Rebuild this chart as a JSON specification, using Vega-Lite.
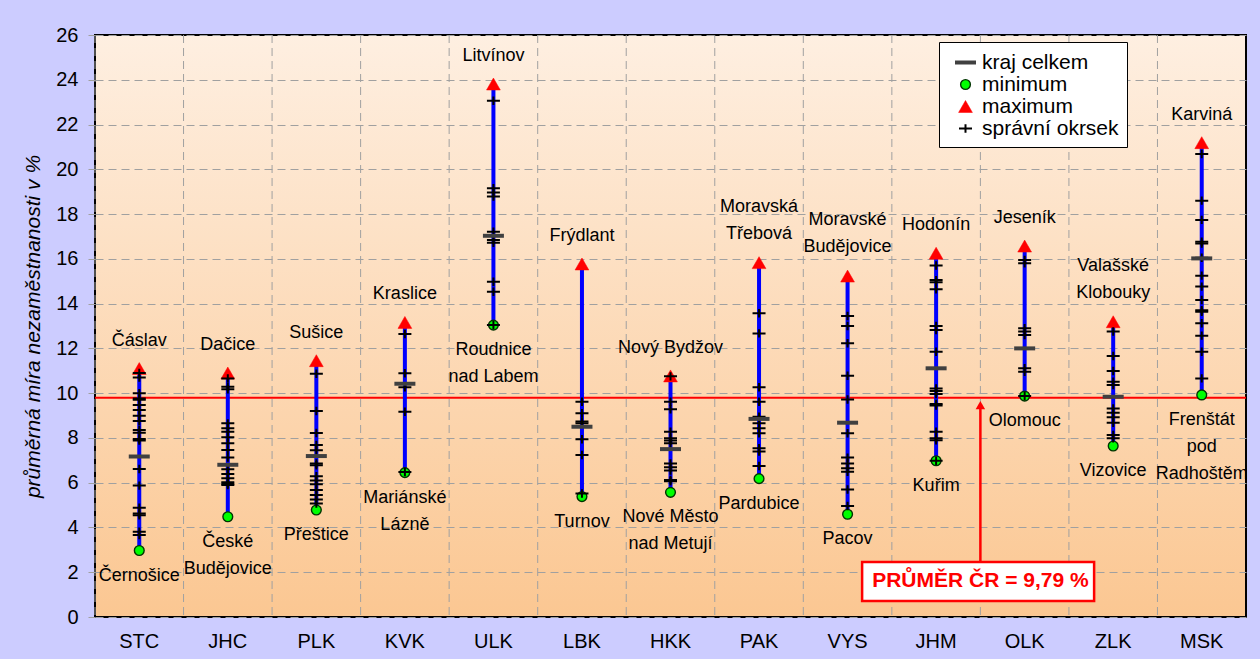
{
  "$schema": "https://vega.github.io/schema/vega-lite/v6.json",
  "width": 1151,
  "height": 582,
  "autosize": {"type": "none"},
  "padding": {"left": 95, "top": 35, "right": 14, "bottom": 42},
  "background": "#CCCCFF",
  "data": {
    "values": [
      {"kraj": "STC", "typ": "minimum", "hodnota": 2.97, "orp": "Černošice"},
      {"kraj": "STC", "typ": "maximum", "hodnota": 11.1, "orp": "Čáslav"},
      {"kraj": "JHC", "typ": "minimum", "hodnota": 4.48, "orp": "České\nBudějovice"},
      {"kraj": "JHC", "typ": "maximum", "hodnota": 10.9, "orp": "Dačice"},
      {"kraj": "PLK", "typ": "minimum", "hodnota": 4.78, "orp": "Přeštice"},
      {"kraj": "PLK", "typ": "maximum", "hodnota": 11.45, "orp": "Sušice"},
      {"kraj": "KVK", "typ": "minimum", "hodnota": 6.45, "orp": "Mariánské\nLázně"},
      {"kraj": "KVK", "typ": "maximum", "hodnota": 13.16, "orp": "Kraslice"},
      {"kraj": "ULK", "typ": "minimum", "hodnota": 13.04, "orp": "Roudnice\nnad Labem"},
      {"kraj": "ULK", "typ": "maximum", "hodnota": 23.81, "orp": "Litvínov"},
      {"kraj": "LBK", "typ": "minimum", "hodnota": 5.38, "orp": "Turnov"},
      {"kraj": "LBK", "typ": "maximum", "hodnota": 15.77, "orp": "Frýdlant"},
      {"kraj": "HKK", "typ": "minimum", "hodnota": 5.57, "orp": "Nové Město\nnad Metují"},
      {"kraj": "HKK", "typ": "maximum", "hodnota": 10.77, "orp": "Nový Bydžov"},
      {"kraj": "PAK", "typ": "minimum", "hodnota": 6.18, "orp": "Pardubice"},
      {"kraj": "PAK", "typ": "maximum", "hodnota": 15.83, "orp": "Moravská\nTřebová"},
      {"kraj": "VYS", "typ": "minimum", "hodnota": 4.59, "orp": "Pacov"},
      {"kraj": "VYS", "typ": "maximum", "hodnota": 15.23, "orp": "Moravské\nBudějovice"},
      {"kraj": "JHM", "typ": "minimum", "hodnota": 6.98, "orp": "Kuřim"},
      {"kraj": "JHM", "typ": "maximum", "hodnota": 16.25, "orp": "Hodonín"},
      {"kraj": "OLK", "typ": "minimum", "hodnota": 9.87, "orp": "Olomouc"},
      {"kraj": "OLK", "typ": "maximum", "hodnota": 16.57, "orp": "Jeseník"},
      {"kraj": "ZLK", "typ": "minimum", "hodnota": 7.64, "orp": "Vizovice"},
      {"kraj": "ZLK", "typ": "maximum", "hodnota": 13.19, "orp": "Valašské\nKlobouky"},
      {"kraj": "MSK", "typ": "minimum", "hodnota": 9.92, "orp": "Frenštát\npod\nRadhoštěm"},
      {"kraj": "MSK", "typ": "maximum", "hodnota": 21.19, "orp": "Karviná"},

      {"kraj": "STC", "typ": "správní okrsek", "hodnota": 10.9},
      {"kraj": "STC", "typ": "správní okrsek", "hodnota": 10.7},
      {"kraj": "STC", "typ": "správní okrsek", "hodnota": 10.0},
      {"kraj": "STC", "typ": "správní okrsek", "hodnota": 9.76},
      {"kraj": "STC", "typ": "správní okrsek", "hodnota": 9.7},
      {"kraj": "STC", "typ": "správní okrsek", "hodnota": 9.47},
      {"kraj": "STC", "typ": "správní okrsek", "hodnota": 9.25},
      {"kraj": "STC", "typ": "správní okrsek", "hodnota": 8.99},
      {"kraj": "STC", "typ": "správní okrsek", "hodnota": 8.76},
      {"kraj": "STC", "typ": "správní okrsek", "hodnota": 8.35},
      {"kraj": "STC", "typ": "správní okrsek", "hodnota": 8.23},
      {"kraj": "STC", "typ": "správní okrsek", "hodnota": 7.95},
      {"kraj": "STC", "typ": "správní okrsek", "hodnota": 7.88},
      {"kraj": "STC", "typ": "správní okrsek", "hodnota": 6.61},
      {"kraj": "STC", "typ": "správní okrsek", "hodnota": 5.87},
      {"kraj": "STC", "typ": "správní okrsek", "hodnota": 4.88},
      {"kraj": "STC", "typ": "správní okrsek", "hodnota": 4.62},
      {"kraj": "STC", "typ": "správní okrsek", "hodnota": 4.55},
      {"kraj": "STC", "typ": "správní okrsek", "hodnota": 3.81},
      {"kraj": "STC", "typ": "správní okrsek", "hodnota": 3.66},

      {"kraj": "JHC", "typ": "správní okrsek", "hodnota": 10.66},
      {"kraj": "JHC", "typ": "správní okrsek", "hodnota": 10.29},
      {"kraj": "JHC", "typ": "správní okrsek", "hodnota": 10.17},
      {"kraj": "JHC", "typ": "správní okrsek", "hodnota": 8.65},
      {"kraj": "JHC", "typ": "správní okrsek", "hodnota": 8.43},
      {"kraj": "JHC", "typ": "správní okrsek", "hodnota": 8.28},
      {"kraj": "JHC", "typ": "správní okrsek", "hodnota": 8.03},
      {"kraj": "JHC", "typ": "správní okrsek", "hodnota": 7.76},
      {"kraj": "JHC", "typ": "správní okrsek", "hodnota": 7.46},
      {"kraj": "JHC", "typ": "správní okrsek", "hodnota": 7.12},
      {"kraj": "JHC", "typ": "správní okrsek", "hodnota": 6.6},
      {"kraj": "JHC", "typ": "správní okrsek", "hodnota": 6.39},
      {"kraj": "JHC", "typ": "správní okrsek", "hodnota": 6.2},
      {"kraj": "JHC", "typ": "správní okrsek", "hodnota": 6.02},
      {"kraj": "JHC", "typ": "správní okrsek", "hodnota": 5.95},
      {"kraj": "JHC", "typ": "správní okrsek", "hodnota": 5.9},

      {"kraj": "PLK", "typ": "správní okrsek", "hodnota": 10.87},
      {"kraj": "PLK", "typ": "správní okrsek", "hodnota": 9.2},
      {"kraj": "PLK", "typ": "správní okrsek", "hodnota": 8.22},
      {"kraj": "PLK", "typ": "správní okrsek", "hodnota": 7.68},
      {"kraj": "PLK", "typ": "správní okrsek", "hodnota": 7.45},
      {"kraj": "PLK", "typ": "správní okrsek", "hodnota": 6.86},
      {"kraj": "PLK", "typ": "správní okrsek", "hodnota": 6.78},
      {"kraj": "PLK", "typ": "správní okrsek", "hodnota": 6.29},
      {"kraj": "PLK", "typ": "správní okrsek", "hodnota": 6.1},
      {"kraj": "PLK", "typ": "správní okrsek", "hodnota": 5.93},
      {"kraj": "PLK", "typ": "správní okrsek", "hodnota": 5.67},
      {"kraj": "PLK", "typ": "správní okrsek", "hodnota": 5.45},
      {"kraj": "PLK", "typ": "správní okrsek", "hodnota": 5.25},
      {"kraj": "PLK", "typ": "správní okrsek", "hodnota": 5.07},

      {"kraj": "KVK", "typ": "správní okrsek", "hodnota": 12.64},
      {"kraj": "KVK", "typ": "správní okrsek", "hodnota": 10.89},
      {"kraj": "KVK", "typ": "správní okrsek", "hodnota": 10.26},
      {"kraj": "KVK", "typ": "správní okrsek", "hodnota": 9.17},
      {"kraj": "KVK", "typ": "správní okrsek", "hodnota": 6.48},

      {"kraj": "ULK", "typ": "správní okrsek", "hodnota": 23.06},
      {"kraj": "ULK", "typ": "správní okrsek", "hodnota": 19.15},
      {"kraj": "ULK", "typ": "správní okrsek", "hodnota": 18.96},
      {"kraj": "ULK", "typ": "správní okrsek", "hodnota": 18.78},
      {"kraj": "ULK", "typ": "správní okrsek", "hodnota": 17.21},
      {"kraj": "ULK", "typ": "správní okrsek", "hodnota": 16.84},
      {"kraj": "ULK", "typ": "správní okrsek", "hodnota": 16.72},
      {"kraj": "ULK", "typ": "správní okrsek", "hodnota": 14.98},
      {"kraj": "ULK", "typ": "správní okrsek", "hodnota": 14.53},
      {"kraj": "ULK", "typ": "správní okrsek", "hodnota": 13.04},

      {"kraj": "LBK", "typ": "správní okrsek", "hodnota": 9.62},
      {"kraj": "LBK", "typ": "správní okrsek", "hodnota": 9.1},
      {"kraj": "LBK", "typ": "správní okrsek", "hodnota": 8.73},
      {"kraj": "LBK", "typ": "správní okrsek", "hodnota": 8.65},
      {"kraj": "LBK", "typ": "správní okrsek", "hodnota": 7.94},
      {"kraj": "LBK", "typ": "správní okrsek", "hodnota": 7.24},
      {"kraj": "LBK", "typ": "správní okrsek", "hodnota": 5.52},

      {"kraj": "HKK", "typ": "správní okrsek", "hodnota": 10.75},
      {"kraj": "HKK", "typ": "správní okrsek", "hodnota": 9.62},
      {"kraj": "HKK", "typ": "správní okrsek", "hodnota": 9.28},
      {"kraj": "HKK", "typ": "správní okrsek", "hodnota": 8.28},
      {"kraj": "HKK", "typ": "správní okrsek", "hodnota": 7.98},
      {"kraj": "HKK", "typ": "správní okrsek", "hodnota": 7.88},
      {"kraj": "HKK", "typ": "správní okrsek", "hodnota": 7.76},
      {"kraj": "HKK", "typ": "správní okrsek", "hodnota": 6.86},
      {"kraj": "HKK", "typ": "správní okrsek", "hodnota": 6.69},
      {"kraj": "HKK", "typ": "správní okrsek", "hodnota": 6.54},
      {"kraj": "HKK", "typ": "správní okrsek", "hodnota": 6.12},
      {"kraj": "HKK", "typ": "správní okrsek", "hodnota": 6.06},

      {"kraj": "PAK", "typ": "správní okrsek", "hodnota": 13.57},
      {"kraj": "PAK", "typ": "správní okrsek", "hodnota": 12.67},
      {"kraj": "PAK", "typ": "správní okrsek", "hodnota": 10.26},
      {"kraj": "PAK", "typ": "správní okrsek", "hodnota": 9.62},
      {"kraj": "PAK", "typ": "správní okrsek", "hodnota": 8.95},
      {"kraj": "PAK", "typ": "správní okrsek", "hodnota": 8.65},
      {"kraj": "PAK", "typ": "správní okrsek", "hodnota": 8.43},
      {"kraj": "PAK", "typ": "správní okrsek", "hodnota": 8.21},
      {"kraj": "PAK", "typ": "správní okrsek", "hodnota": 7.54},
      {"kraj": "PAK", "typ": "správní okrsek", "hodnota": 7.39},
      {"kraj": "PAK", "typ": "správní okrsek", "hodnota": 6.75},

      {"kraj": "VYS", "typ": "správní okrsek", "hodnota": 13.45},
      {"kraj": "VYS", "typ": "správní okrsek", "hodnota": 13.0},
      {"kraj": "VYS", "typ": "správní okrsek", "hodnota": 12.23},
      {"kraj": "VYS", "typ": "správní okrsek", "hodnota": 10.78},
      {"kraj": "VYS", "typ": "správní okrsek", "hodnota": 9.72},
      {"kraj": "VYS", "typ": "správní okrsek", "hodnota": 8.21},
      {"kraj": "VYS", "typ": "správní okrsek", "hodnota": 7.12},
      {"kraj": "VYS", "typ": "správní okrsek", "hodnota": 6.86},
      {"kraj": "VYS", "typ": "správní okrsek", "hodnota": 6.64},
      {"kraj": "VYS", "typ": "správní okrsek", "hodnota": 6.49},
      {"kraj": "VYS", "typ": "správní okrsek", "hodnota": 5.7},
      {"kraj": "VYS", "typ": "správní okrsek", "hodnota": 4.96},

      {"kraj": "JHM", "typ": "správní okrsek", "hodnota": 15.7},
      {"kraj": "JHM", "typ": "správní okrsek", "hodnota": 15.05},
      {"kraj": "JHM", "typ": "správní okrsek", "hodnota": 14.96},
      {"kraj": "JHM", "typ": "správní okrsek", "hodnota": 14.64},
      {"kraj": "JHM", "typ": "správní okrsek", "hodnota": 13.0},
      {"kraj": "JHM", "typ": "správní okrsek", "hodnota": 12.82},
      {"kraj": "JHM", "typ": "správní okrsek", "hodnota": 11.85},
      {"kraj": "JHM", "typ": "správní okrsek", "hodnota": 10.21},
      {"kraj": "JHM", "typ": "správní okrsek", "hodnota": 10.1},
      {"kraj": "JHM", "typ": "správní okrsek", "hodnota": 9.96},
      {"kraj": "JHM", "typ": "správní okrsek", "hodnota": 9.52},
      {"kraj": "JHM", "typ": "správní okrsek", "hodnota": 9.45},
      {"kraj": "JHM", "typ": "správní okrsek", "hodnota": 8.28},
      {"kraj": "JHM", "typ": "správní okrsek", "hodnota": 7.98},
      {"kraj": "JHM", "typ": "správní okrsek", "hodnota": 7.9},
      {"kraj": "JHM", "typ": "správní okrsek", "hodnota": 6.98},

      {"kraj": "OLK", "typ": "správní okrsek", "hodnota": 15.95},
      {"kraj": "OLK", "typ": "správní okrsek", "hodnota": 15.8},
      {"kraj": "OLK", "typ": "správní okrsek", "hodnota": 12.9},
      {"kraj": "OLK", "typ": "správní okrsek", "hodnota": 12.75},
      {"kraj": "OLK", "typ": "správní okrsek", "hodnota": 12.6},
      {"kraj": "OLK", "typ": "správní okrsek", "hodnota": 11.11},
      {"kraj": "OLK", "typ": "správní okrsek", "hodnota": 10.96},
      {"kraj": "OLK", "typ": "správní okrsek", "hodnota": 9.87},

      {"kraj": "ZLK", "typ": "správní okrsek", "hodnota": 12.75},
      {"kraj": "ZLK", "typ": "správní okrsek", "hodnota": 11.66},
      {"kraj": "ZLK", "typ": "správní okrsek", "hodnota": 10.99},
      {"kraj": "ZLK", "typ": "správní okrsek", "hodnota": 10.51},
      {"kraj": "ZLK", "typ": "správní okrsek", "hodnota": 10.36},
      {"kraj": "ZLK", "typ": "správní okrsek", "hodnota": 9.32},
      {"kraj": "ZLK", "typ": "správní okrsek", "hodnota": 9.13},
      {"kraj": "ZLK", "typ": "správní okrsek", "hodnota": 8.92},
      {"kraj": "ZLK", "typ": "správní okrsek", "hodnota": 8.68},
      {"kraj": "ZLK", "typ": "správní okrsek", "hodnota": 8.13},
      {"kraj": "ZLK", "typ": "správní okrsek", "hodnota": 7.98},

      {"kraj": "MSK", "typ": "správní okrsek", "hodnota": 20.68},
      {"kraj": "MSK", "typ": "správní okrsek", "hodnota": 18.6},
      {"kraj": "MSK", "typ": "správní okrsek", "hodnota": 17.74},
      {"kraj": "MSK", "typ": "správní okrsek", "hodnota": 16.76},
      {"kraj": "MSK", "typ": "správní okrsek", "hodnota": 16.68},
      {"kraj": "MSK", "typ": "správní okrsek", "hodnota": 16.05},
      {"kraj": "MSK", "typ": "správní okrsek", "hodnota": 15.25},
      {"kraj": "MSK", "typ": "správní okrsek", "hodnota": 14.76},
      {"kraj": "MSK", "typ": "správní okrsek", "hodnota": 14.16},
      {"kraj": "MSK", "typ": "správní okrsek", "hodnota": 13.7},
      {"kraj": "MSK", "typ": "správní okrsek", "hodnota": 13.64},
      {"kraj": "MSK", "typ": "správní okrsek", "hodnota": 13.12},
      {"kraj": "MSK", "typ": "správní okrsek", "hodnota": 12.57},
      {"kraj": "MSK", "typ": "správní okrsek", "hodnota": 11.85},
      {"kraj": "MSK", "typ": "správní okrsek", "hodnota": 10.66},

      {"kraj": "STC", "typ": "kraj celkem", "hodnota": 7.17},
      {"kraj": "JHC", "typ": "kraj celkem", "hodnota": 6.8},
      {"kraj": "PLK", "typ": "kraj celkem", "hodnota": 7.19},
      {"kraj": "KVK", "typ": "kraj celkem", "hodnota": 10.42},
      {"kraj": "ULK", "typ": "kraj celkem", "hodnota": 17.03},
      {"kraj": "LBK", "typ": "kraj celkem", "hodnota": 8.5},
      {"kraj": "HKK", "typ": "kraj celkem", "hodnota": 7.5},
      {"kraj": "PAK", "typ": "kraj celkem", "hodnota": 8.85},
      {"kraj": "VYS", "typ": "kraj celkem", "hodnota": 8.68},
      {"kraj": "JHM", "typ": "kraj celkem", "hodnota": 11.11},
      {"kraj": "OLK", "typ": "kraj celkem", "hodnota": 12.0},
      {"kraj": "ZLK", "typ": "kraj celkem", "hodnota": 9.84},
      {"kraj": "MSK", "typ": "kraj celkem", "hodnota": 16.02}
    ]
  },
  "layer": [
    {
      "transform": [{"filter": "datum.typ === 'kraj celkem'"}],
      "mark": {"type": "rule", "color": "#A0A0A0", "strokeDash": [8, 5], "strokeWidth": 1},
      "encoding": {
        "x": {"field": "kraj", "type": "nominal", "bandPosition": 0, "title": null,
              "scale": {"domain": ["STC","JHC","PLK","KVK","ULK","LBK","HKK","PAK","VYS","JHM","OLK","ZLK","MSK"], "paddingInner": 0, "paddingOuter": 0}}
      }
    },
    {
      "data": {"values": [{"prumer": 9.79}]},
      "mark": {"type": "rule", "color": "#FF0000", "strokeWidth": 2},
      "encoding": {
        "y": {"field": "prumer", "type": "quantitative", "title": "průměrná míra nezaměstnanosti v %", "scale": {"domain": [0, 26], "nice": false}}
      }
    },
    {
      "transform": [
        {"filter": "datum.typ === 'minimum' || datum.typ === 'maximum'"},
        {"aggregate": [{"op": "min", "field": "hodnota", "as": "od"}, {"op": "max", "field": "hodnota", "as": "do"}], "groupby": ["kraj"]}
      ],
      "mark": {"type": "rule", "color": "#0000FF", "strokeWidth": 4},
      "encoding": {
        "x": {"field": "kraj", "type": "nominal", "title": null,
              "scale": {"domain": ["STC","JHC","PLK","KVK","ULK","LBK","HKK","PAK","VYS","JHM","OLK","ZLK","MSK"], "paddingInner": 0, "paddingOuter": 0}},
        "y": {"field": "od", "type": "quantitative", "title": "průměrná míra nezaměstnanosti v %", "scale": {"domain": [0, 26], "nice": false}},
        "y2": {"field": "do"}
      }
    },
    {
      "mark": {"type": "point", "opacity": 1},
      "encoding": {
        "x": {"field": "kraj", "type": "nominal", "title": null,
              "scale": {"domain": ["STC","JHC","PLK","KVK","ULK","LBK","HKK","PAK","VYS","JHM","OLK","ZLK","MSK"], "paddingInner": 0, "paddingOuter": 0}},
        "y": {"field": "hodnota", "type": "quantitative", "title": "průměrná míra nezaměstnanosti v %", "scale": {"domain": [0, 26], "nice": false}},
        "shape": {"field": "typ", "type": "nominal", "legend": {"title": null},
                  "scale": {"domain": ["kraj celkem","minimum","maximum","správní okrsek"], "range": ["M-1,0H1", "circle", "triangle-up", "M-1,0H1M0,-0.65V0.65"]}},
        "fill": {"field": "typ", "type": "nominal", "legend": {"title": null},
                 "scale": {"domain": ["kraj celkem","minimum","maximum","správní okrsek"], "range": ["transparent", "#00FF00", "#FF0000", "transparent"]}},
        "stroke": {"field": "typ", "type": "nominal", "legend": {"title": null},
                   "scale": {"domain": ["kraj celkem","minimum","maximum","správní okrsek"], "range": ["#404040", "#003300", "#FF0000", "#000000"]}},
        "size": {"field": "typ", "type": "nominal", "legend": {"title": null},
                 "scale": {"type": "ordinal", "domain": ["kraj celkem","minimum","maximum","správní okrsek"], "range": [441, 95, 190, 169]}},
        "strokeWidth": {"field": "typ", "type": "nominal", "legend": {"title": null},
                        "scale": {"type": "ordinal", "domain": ["kraj celkem","minimum","maximum","správní okrsek"], "range": [4, 1.4, 0.5, 2]}}
      }
    },
    {
      "transform": [{"filter": "datum.typ === 'maximum' && indexof(datum.orp, '\\n') < 0"}],
      "mark": {"type": "text", "fontSize": 18, "baseline": "bottom", "dy": -19, "lineBreak": "\n", "lineHeight": 27, "color": "#000000"},
      "encoding": {
        "x": {"field": "kraj", "type": "nominal", "title": null,
              "scale": {"domain": ["STC","JHC","PLK","KVK","ULK","LBK","HKK","PAK","VYS","JHM","OLK","ZLK","MSK"], "paddingInner": 0, "paddingOuter": 0}},
        "y": {"field": "hodnota", "type": "quantitative", "title": "průměrná míra nezaměstnanosti v %", "scale": {"domain": [0, 26], "nice": false}},
        "text": {"field": "orp"}
      }
    },
    {
      "transform": [{"filter": "datum.typ === 'maximum' && indexof(datum.orp, '\\n') >= 0"}],
      "mark": {"type": "text", "fontSize": 18, "baseline": "bottom", "dy": -47, "lineBreak": "\n", "lineHeight": 27, "color": "#000000"},
      "encoding": {
        "x": {"field": "kraj", "type": "nominal", "title": null,
              "scale": {"domain": ["STC","JHC","PLK","KVK","ULK","LBK","HKK","PAK","VYS","JHM","OLK","ZLK","MSK"], "paddingInner": 0, "paddingOuter": 0}},
        "y": {"field": "hodnota", "type": "quantitative", "title": "průměrná míra nezaměstnanosti v %", "scale": {"domain": [0, 26], "nice": false}},
        "text": {"field": "orp"}
      }
    },
    {
      "transform": [{"filter": "datum.typ === 'minimum'"}],
      "mark": {"type": "text", "fontSize": 18, "baseline": "top", "dy": 16, "lineBreak": "\n", "lineHeight": 27, "color": "#000000"},
      "encoding": {
        "x": {"field": "kraj", "type": "nominal", "title": null,
              "scale": {"domain": ["STC","JHC","PLK","KVK","ULK","LBK","HKK","PAK","VYS","JHM","OLK","ZLK","MSK"], "paddingInner": 0, "paddingOuter": 0}},
        "y": {"field": "hodnota", "type": "quantitative", "title": "průměrná míra nezaměstnanosti v %", "scale": {"domain": [0, 26], "nice": false}},
        "text": {"field": "orp"}
      }
    },
    {
      "data": {"values": [{"popis": "PRŮMĚR ČR = 9,79 %"}]},
      "mark": {"type": "rule", "color": "#FF0000", "strokeWidth": 2.5},
      "encoding": {
        "x": {"datum": "JHM", "type": "nominal", "bandPosition": 1, "title": null,
              "scale": {"domain": ["STC","JHC","PLK","KVK","ULK","LBK","HKK","PAK","VYS","JHM","OLK","ZLK","MSK"], "paddingInner": 0, "paddingOuter": 0}},
        "y": {"datum": 2.46, "type": "quantitative", "title": "průměrná míra nezaměstnanosti v %", "scale": {"domain": [0, 26], "nice": false}},
        "y2": {"datum": 9.4}
      }
    },
    {
      "data": {"values": [{"popis": "PRŮMĚR ČR = 9,79 %"}]},
      "mark": {"type": "point", "shape": "triangle-up", "filled": true, "color": "#FF0000", "opacity": 1, "size": 90},
      "encoding": {
        "x": {"datum": "JHM", "type": "nominal", "bandPosition": 1, "title": null,
              "scale": {"domain": ["STC","JHC","PLK","KVK","ULK","LBK","HKK","PAK","VYS","JHM","OLK","ZLK","MSK"], "paddingInner": 0, "paddingOuter": 0}},
        "y": {"datum": 9.47, "type": "quantitative", "title": "průměrná míra nezaměstnanosti v %", "scale": {"domain": [0, 26], "nice": false}}
      }
    },
    {
      "data": {"values": [{"popis": "PRŮMĚR ČR = 9,79 %"}]},
      "mark": {"type": "rect", "fill": "#FFFFFF", "stroke": "#FF0000", "strokeWidth": 2.5, "width": 232, "xOffset": 42},
      "encoding": {
        "x": {"datum": "JHM", "type": "nominal", "bandPosition": 1, "title": null,
              "scale": {"domain": ["STC","JHC","PLK","KVK","ULK","LBK","HKK","PAK","VYS","JHM","OLK","ZLK","MSK"], "paddingInner": 0, "paddingOuter": 0}},
        "y": {"datum": 0.71, "type": "quantitative", "title": "průměrná míra nezaměstnanosti v %", "scale": {"domain": [0, 26], "nice": false}},
        "y2": {"datum": 2.46}
      }
    },
    {
      "data": {"values": [{"popis": "PRŮMĚR ČR = 9,79 %"}]},
      "mark": {"type": "text", "fontSize": 21, "fontWeight": "bold", "color": "#FF0000", "baseline": "middle"},
      "encoding": {
        "x": {"datum": "JHM", "type": "nominal", "bandPosition": 1, "title": null,
              "scale": {"domain": ["STC","JHC","PLK","KVK","ULK","LBK","HKK","PAK","VYS","JHM","OLK","ZLK","MSK"], "paddingInner": 0, "paddingOuter": 0}},
        "y": {"datum": 1.6, "type": "quantitative", "title": "průměrná míra nezaměstnanosti v %", "scale": {"domain": [0, 26], "nice": false}},
        "text": {"field": "popis"}
      }
    }
  ],
  "config": {
    "font": "Liberation Sans",
    "view": {
      "fill": {"gradient": "linear", "x1": 0, "y1": 0, "x2": 0, "y2": 1,
               "stops": [{"offset": 0, "color": "#FEEFE1"}, {"offset": 1, "color": "#FBC792"}]},
      "stroke": "#000000",
      "strokeWidth": 2
    },
    "axisX": {"labelFontSize": 20, "labelColor": "#000000", "labelPadding": 14, "ticks": false, "domain": false, "grid": false, "labelAngle": 0},
    "axisY": {"labelFontSize": 20, "labelColor": "#000000", "labelPadding": 10, "tickCount": 13, "grid": true, "gridDash": [8, 5], "gridColor": "#A0A0A0", "gridOpacity": 1, "tickColor": "#A0A0A0", "tickSize": 7, "domain": false,
              "titleFontSize": 21, "titleFontStyle": "italic", "titleFontWeight": "normal", "titleColor": "#000000", "titlePadding": 12},
    "legend": {"orient": "none", "legendX": 844, "legendY": 7, "fillColor": "#FFFFFF", "strokeColor": "#000000", "padding": 8, "labelFontSize": 21, "labelColor": "#000000", "rowPadding": 0, "symbolOffset": 6, "labelOffset": 4}
  }
}
